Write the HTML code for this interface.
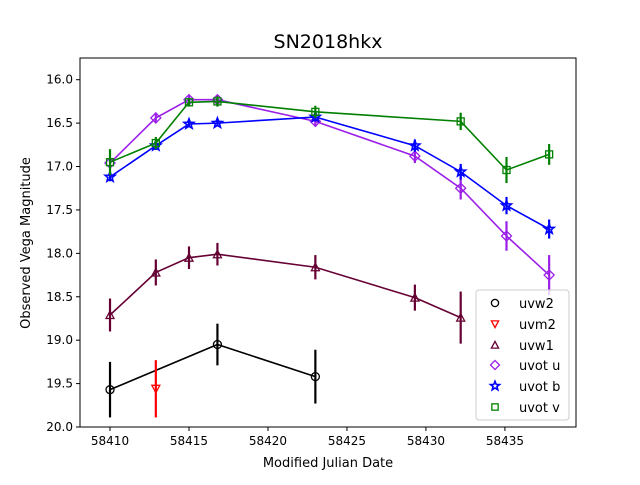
<!DOCTYPE html>
<html><head><meta charset="utf-8"><style>
body{margin:0;background:#fff}
svg text{font-family:"DejaVu Sans","Liberation Sans",sans-serif}
</style></head><body>
<svg id="chart" width="640" height="480" xmlns="http://www.w3.org/2000/svg">
<rect width="640" height="480" fill="#fff"/>
<text x="328" y="48" font-size="19" text-anchor="middle">SN2018hkx</text>
<g id="plot"></g>
<rect x="80" y="58" width="496" height="369" fill="none" stroke="#000" stroke-width="1"/>
<text x="328" y="467" font-size="13" text-anchor="middle">Modified Julian Date</text>
<text x="30" y="243" font-size="13" text-anchor="middle" transform="rotate(-90 30 243)">Observed Vega Magnitude</text>
<g id="legend"></g>
</svg>
<script>
const xTicks=[58410,58415,58420,58425,58430,58435];
const yTicks=[16.0,16.5,17.0,17.5,18.0,18.5,19.0,19.5,20.0];
const seriesNames=["uvw2","uvm2","uvw1","uvot u","uvot b","uvot v"];
const uvw2X=[58410.0,58416.8,58423.0];
const uvw2Y=[19.57,19.05,19.42];
const uvw2E=[0.32,0.24,0.31];
const uvm2X=[58412.9];
const uvm2Y=[19.56];
const uvm2E=[0.33];
const uvw1X=[58410.0,58412.9,58415.0,58416.8,58423.0,58429.3,58432.2];
const uvw1Y=[18.71,18.22,18.05,18.01,18.16,18.51,18.74];
const uvw1E=[0.19,0.15,0.13,0.13,0.14,0.15,0.30];
const uX=[58410.0,58412.9,58415.0,58416.8,58423.0,58429.3,58432.2,58435.1,58437.8];
const uY=[16.96,16.44,16.23,16.23,16.48,16.88,17.25,17.80,18.25];
const uE=[0.06,0.06,0.05,0.05,0.06,0.08,0.13,0.17,0.23];
const bX=[58410.0,58412.9,58415.0,58416.8,58423.0,58429.3,58432.2,58435.1,58437.8];
const bY=[17.12,16.76,16.51,16.50,16.43,16.76,17.06,17.45,17.72];
const bE=[0.05,0.05,0.04,0.04,0.05,0.07,0.09,0.10,0.11];
const vX=[58410.0,58412.9,58415.0,58416.8,58423.0,58432.2,58435.1,58437.8];
const vY=[16.95,16.73,16.26,16.25,16.37,16.48,17.04,16.86];
const vE=[0.15,0.07,0.05,0.06,0.07,0.10,0.15,0.12];

const NS="http://www.w3.org/2000/svg";
const X0=80,X1=576,Y0=58,Y1=427;
const xmin=58408.1,xmax=58439.5,ymin=15.75,ymax=20.0;
function sx(v){return X0+(v-xmin)/(xmax-xmin)*(X1-X0);}
function sy(v){return Y0+(v-ymin)/(ymax-ymin)*(Y1-Y0);}
function mk(tag,attrs,parent){const e=document.createElementNS(NS,tag);for(const k in attrs)e.setAttribute(k,attrs[k]);parent.appendChild(e);return e;}
const svg=document.getElementById('chart');
const plot=document.getElementById('plot');

xTicks.forEach(t=>{
  const g=mk('g',{},svg);
  
  
  mk('line',{x1:sx(t),x2:sx(t),y1:Y1,y2:Y1+4,stroke:'#000'},g);
  const tx=mk('text',{x:sx(t),y:Y1+18,'font-size':12,'text-anchor':'middle'},g);tx.textContent=t;
});
yTicks.forEach(t=>{
  const g=mk('g',{},svg);
  
  
  mk('line',{x1:X0-4,x2:X0,y1:sy(t),y2:sy(t),stroke:'#000'},g);
  const tx=mk('text',{x:X0-7,y:sy(t)+4,'font-size':12,'text-anchor':'end'},g);tx.textContent=t.toFixed(1);
});

function marker(type,cx,cy,color,parent,s){
  s=s||1;
  if(type==='o')return mk('circle',{cx:cx,cy:cy,r:4*s,fill:'none',stroke:color,'stroke-width':1.3},parent);
  if(type==='v')return mk('polygon',{points:`${cx-4*s},${cy-3.5*s} ${cx+4*s},${cy-3.5*s} ${cx},${cy+4*s}`,fill:'none',stroke:color,'stroke-width':1.3},parent);
  if(type==='^')return mk('polygon',{points:`${cx-4*s},${cy+3.5*s} ${cx+4*s},${cy+3.5*s} ${cx},${cy-4*s}`,fill:'none',stroke:color,'stroke-width':1.3},parent);
  if(type==='d')return mk('polygon',{points:`${cx},${cy-5*s} ${cx+5*s},${cy} ${cx},${cy+5*s} ${cx-5*s},${cy}`,fill:'none',stroke:color,'stroke-width':1.3},parent);
  if(type==='s')return mk('rect',{x:cx-3.5*s,y:cy-3.5*s,width:7*s,height:7*s,fill:'none',stroke:color,'stroke-width':1.3},parent);
  if(type==='*'){let p=[];for(let i=0;i<10;i++){const r=(i%2?2.2:5.2)*s,a=-Math.PI/2+i*Math.PI/5;p.push((cx+r*Math.cos(a)).toFixed(1)+','+(cy+r*Math.sin(a)).toFixed(1));}
    return mk('polygon',{points:p.join(' '),fill:'none',stroke:color,'stroke-width':1.6},parent);}
}
const series=[
 {name:'uvw2',x:uvw2X,y:uvw2Y,e:uvw2E,c:'#000000',m:'o'},
 {name:'uvm2',x:uvm2X,y:uvm2Y,e:uvm2E,c:'#ff0000',m:'v'},
 {name:'uvw1',x:uvw1X,y:uvw1Y,e:uvw1E,c:'#660033',m:'^'},
 {name:'uvot-u',x:uX,y:uY,e:uE,c:'#9b1fe8',m:'d'},
 {name:'uvot-b',x:bX,y:bY,e:bE,c:'#0000ff',m:'*'},
 {name:'uvot-v',x:vX,y:vY,e:vE,c:'#008000',m:'s'}
];
series.forEach(s=>{
  const g=mk('g',{},plot);
  
  
  if(s.x.length>1){
    const pl=mk('polyline',{points:s.x.map((v,i)=>sx(v)+','+sy(s.y[i])).join(' '),fill:'none',stroke:s.c,'stroke-width':1.6},g);
    
    
  }
  s.x.forEach((v,i)=>{
    const eb=mk('line',{x1:sx(v),x2:sx(v),y1:sy(s.y[i]-s.e[i]),y2:sy(s.y[i]+s.e[i]),stroke:s.c,'stroke-width':2.2},g);
    
    
    const m=marker(s.m,sx(v),sy(s.y[i]),s.c,g);
    
    
  });
});
const leg=document.getElementById('legend');
mk('rect',{x:476,y:290,width:93,height:130,rx:3,fill:'#fff','fill-opacity':0.8,stroke:'#ccc'},leg);
const legY=[303,324,345,365,386,407];
const legLabels=["uvw2","uvm2","uvw1","uvot u","uvot b","uvot v"];
series.forEach((s,i)=>{
  const g=mk('g',{},leg);
  
  
  marker(s.m,495,legY[i],s.c,g,0.9);
  const t=mk('text',{x:519,y:legY[i]+5,'font-size':13},g);t.textContent=legLabels[i];
});
</script>
</body></html>
